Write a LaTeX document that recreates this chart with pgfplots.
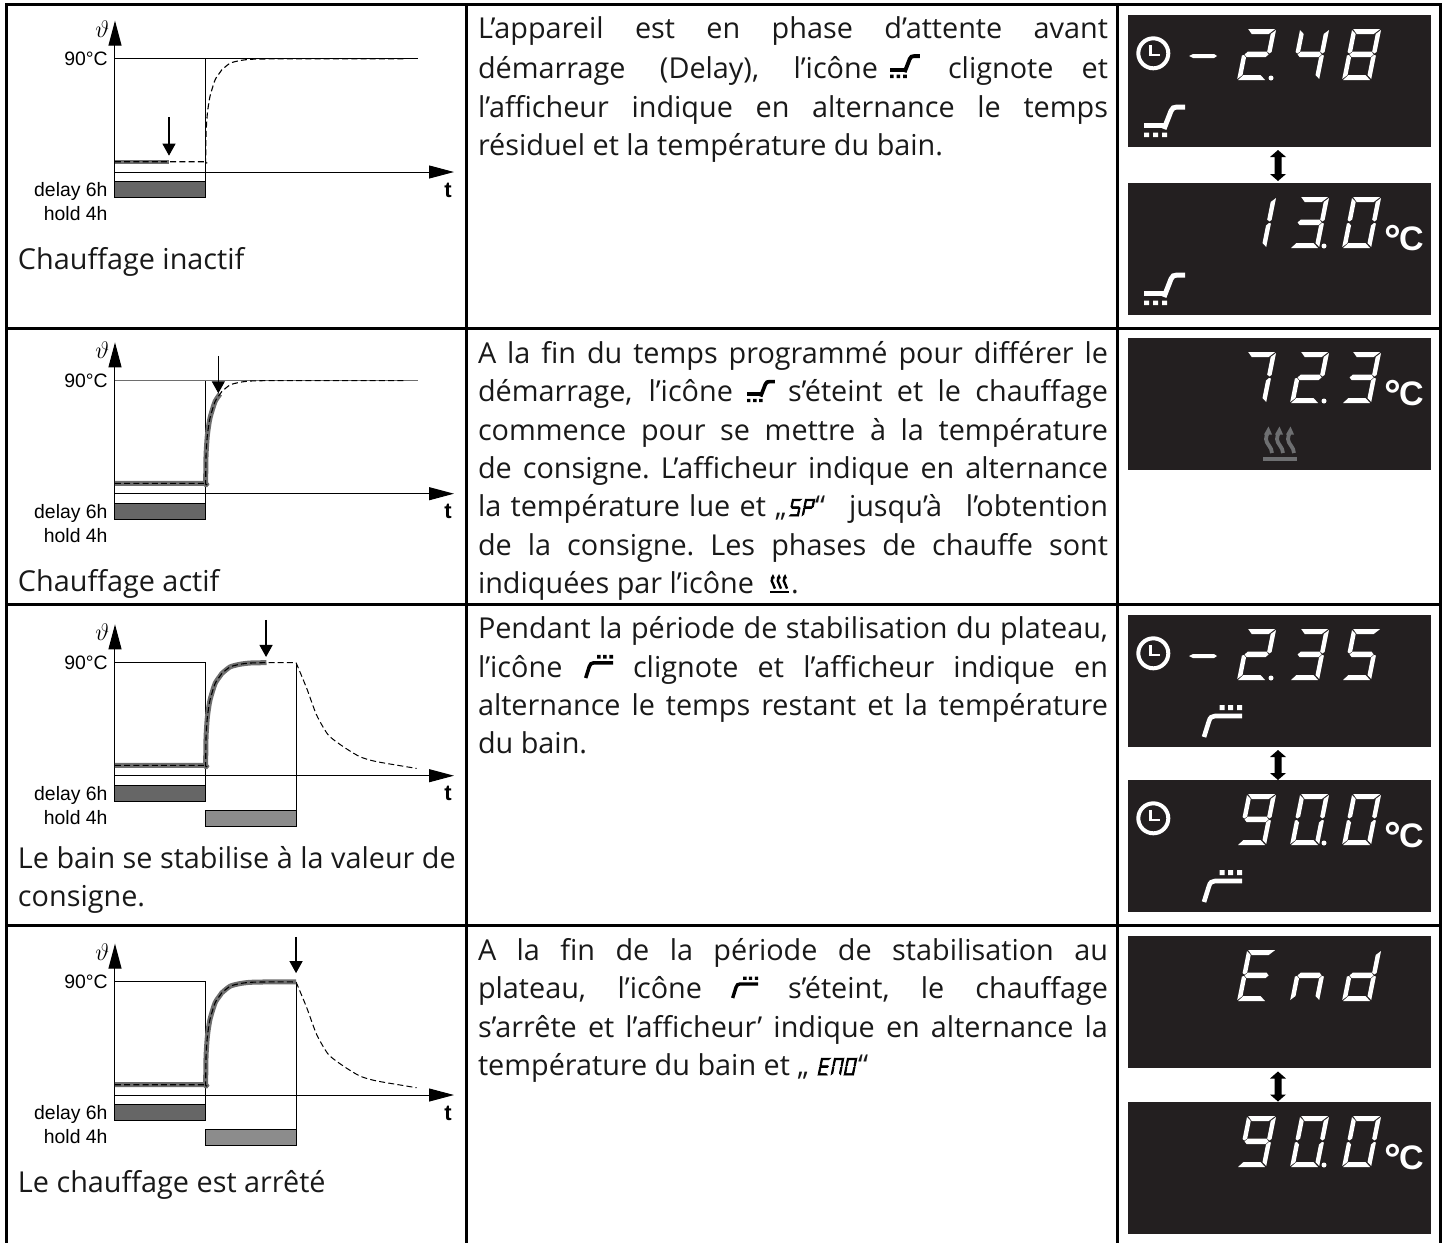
\documentclass[border=0pt]{standalone}
\usepackage{fontspec}
\usepackage{pgfplots}
\pgfplotsset{compat=1.18}
\usepackage{pgfplotstable}
\usetikzlibrary{arrows.meta}
\setmainfont{Open Sans}
\newfontfamily\arial{Liberation Sans}
\definecolor{lcd}{HTML}{231F20}
\definecolor{delaybar}{HTML}{666666}
\definecolor{holdbar}{HTML}{8C8C8C}
\definecolor{trace}{HTML}{6E6E6E}
\definecolor{heaticon}{HTML}{6E6F71}

% x in hours (15 px/h), y in deg C (90 = 113 px)
\pgfplotstableread{
x y
0 8.2
3.6 8.2
6 8.2
6.04 8.2
6.07 30.8
6.16 46.7
6.33 60
6.67 73.3
7 79.3
7.11 81.2
7.67 86.6
8.33 88.7
9 89.7
10.1 90
12.07 90
19.33 90
}\heatup
\pgfplotstableread{
x y
12.07 90
12.78 69.6
13.44 48.3
14.22 32.4
15.22 23.1
16.33 15.1
17.44 11.2
20.11 5.8
}\cooldown

\tikzset{
  pin/.style={black,line width=0.6pt,-{Triangle[length=6pt,width=6.5pt]}},
  dashcurve/.style={black,line width=0.55pt,dash pattern=on 3pt off 1.6pt,smooth,tension=0.4},
  thickcurve/.style={trace,line width=2.5pt,smooth,tension=0.4,line join=round},
  thin/.style={black,line width=0.5pt},
  txt/.style={inner sep=0pt,outer sep=0pt,font=\fontsize{14.4}{17}\selectfont,text=black!90},
  segsty/.style={fill=white},
}

% #1 = pixel row of the t axis, #2 = plots of that row
\newcommand\chart[2]{%
  \begin{axis}[
    at={(57.5pt,{-0.5pt*#1})},anchor=origin,
    scale only axis,width=169.5pt,height=88.5pt,
    xmin=0,xmax=22.6,ymin=-20.4,ymax=120.5,
    axis lines=center,clip=false,
    axis line style={black,line width=0.5pt},
    every inner x axis line/.append style={-{Triangle[length=12.5pt,width=6.5pt]}},
    every inner y axis line/.append style={-{Triangle[length=12.5pt,width=6.5pt]}},
    xtick=\empty,ytick={90},yticklabels={90°C},
    major tick length=0pt,
    yticklabel style={font=\arial\fontsize{9.7}{11}\selectfont,inner sep=0pt,xshift=-3.5pt},
    ]
    \addplot[fill=delaybar,draw=black,line width=0.5pt] coordinates {(0,-7.7) (6.04,-7.7) (6.04,-20.4) (0,-20.4)} --cycle;
    #2
    \node[anchor=base east,inner sep=0pt,font=\arial\fontsize{9.7}{11}\selectfont] at (axis cs:-0.47,-19.6) {delay 6h};
    \node[anchor=base east,inner sep=0pt,font=\arial\fontsize{9.7}{11}\selectfont] at (axis cs:-0.47,-38.8) {hold 4h};
    \node[inner sep=0pt,font=\arial\bfseries\fontsize{11}{12}\selectfont] at (axis cs:22.2,-14.3) {t};
    \node[inner sep=0pt,font=\fontsize{11.5}{12}\selectfont] at (axis cs:-0.85,113.9) {$\vartheta$};
  \end{axis}%
}
\newcommand\holdplots{%
  \addplot[fill=holdbar,draw=black,line width=0.5pt] coordinates {(6.04,-27.6) (12.09,-27.6) (12.09,-40.3) (6.04,-40.3)} --cycle;
  \addplot[thin] coordinates {(12.09,-40.3) (12.09,90)};
  \addplot[dashcurve,line width=0.5pt] table {\cooldown};
}

% seven segment digit, local box 29 x 51 px, slanted
\def\segA{\path[segsty] (1,51)--(28,51)--(22.5,46)--(5.5,46)--cycle;}
\def\segB{\path[segsty] (29,50)--(29,28)--(27,26.5)--(24.5,28.5)--(24.5,46)--cycle;}
\def\segC{\path[segsty] (29,24.5)--(29,1)--(24.5,5)--(24.5,22.5)--(27,25)--cycle;}
\def\segD{\path[segsty] (1,0)--(28,0)--(22.5,5)--(5.5,5)--cycle;}
\def\segE{\path[segsty] (0,1)--(0,24.5)--(2,25)--(4.5,22.5)--(4.5,5)--cycle;}
\def\segF{\path[segsty] (0,50)--(4.5,46)--(4.5,28.5)--(2,26.5)--(0,28)--cycle;}
\def\segG{\path[segsty] (2.5,25.5)--(5,28.3)--(24,28.3)--(26.5,25.5)--(24,23)--(5,23)--cycle;}
\newcommand\dig[4]{%
  \begin{scope}[shift={(#1,#2)},x=0.5pt,y=0.5pt,scale=#3,xslant=0.2]
    \foreach \s in {#4} {\csname seg\s\endcsname}
  \end{scope}%
}
% three digits of a display; #1 = top of display
\newcommand\three[4]{%
  \dig{1237}{#1+65}{1}{#2}\dig{1290}{#1+65}{1}{#3}\dig{1342}{#1+65}{1}{#4}}
\newcommand\dpoint[2]{\fill[white] (#1,#2+63) circle (2.5);}
\newcommand\degc[1]{%
  \node[anchor=base east,inner sep=0pt,text=white,font=\arial\bfseries\fontsize{21}{22}\selectfont] at (1402,#1+71) {°};
  \node[anchor=base east,inner sep=0pt,text=white,font=\arial\bfseries\fontsize{17}{20}\selectfont] at (1424,#1+67) {C};}
\newcommand\clock[1]{%
  \draw[white,line width=2pt] (1153.3,#1+38.3) circle (15);
  \draw[white,line width=1.3pt] (1150.6,#1+30)--(1150.6,#1+40)--(1160,#1+40);}
\newcommand\lcdminus[1]{\fill[white] (1189,#1+41)--(1193,#1+39)--(1214,#1+39)--(1217,#1+41)--(1214,#1+43)--(1193,#1+43)--cycle;}
\newcommand\lcdbox[2]{\fill[lcd] (1128,#1) rectangle (1431,#2);}
\newcommand\updown[2]{\fill[black] (1278,#1)--(1286,#1+7)--(1281.5,#1+7)--(1281.5,#2-7)--(1286,#2-7)--(1278,#2)--(1270,#2-7)--(1274.5,#2-7)--(1274.5,#1+7)--(1270,#1+7)--cycle;}
% ramp up icon: #1 x, #2 bottom y, #3 scale, #4 colour
\newcommand\iconup[4]{%
  \begin{scope}[shift={(#1,#2)},x=0.5pt,y=0.5pt,scale=#3]
    \fill[#4] (0,0) rectangle (5,4.5) (9,0) rectangle (14,4.5) (18,0) rectangle (23,4.5);
    \draw[#4,line width={2.5pt*(#3+0.2)/1.2}] (0,11.5)--(20,11.5);
    \draw[#4,line width={2.5pt*(#3+0.2)/1.2}] (20,8)--(27,26) .. controls (28,29) and (30,30) .. (33,30)--(41,30);
  \end{scope}}
% plateau icon
\newcommand\iconflat[4]{%
  \begin{scope}[shift={(#1,#2)},x=0.5pt,y=0.5pt,scale=#3]
    \fill[#4] (16.7,27) rectangle (21.7,32) (25,27) rectangle (30,32) (34,27) rectangle (39,32);
    \draw[#4,line width={2.3pt*(#3+0.2)/1.2}] (1,0)--(6,16) .. controls (7,19.5) and (9,21) .. (12,21)--(39,21);
  \end{scope}}
% heating icon
\newcommand\iconheat[4]{%
  \begin{scope}[shift={(#1,#2)},x=0.5pt,y=0.5pt,scale=#3]
    \fill[#4] (0,0) rectangle (34,4.5);
    \foreach \o in {0,11,22} {
      \draw[#4,line width={1.9pt*(#3+0.2)/1.2}] (\o+9,8) .. controls (\o+9,14) and (\o+3,17) .. (\o+3,22) .. controls (\o+3,25) and (\o+4,26) .. (\o+5,29);
      \fill[#4] (\o+5.5,34.5)--(\o+1,26.5)--(\o+9,26.5)--cycle;
    }
  \end{scope}}
% justified piece of line
\newcommand\Jx[4]{%
  \pgfmathsetlengthmacro\boxw{(#2-#1)*0.5pt}%
  \node[txt,anchor=base west] at (#1,#3) {\makebox[\boxw][s]{#4}};}
\newcommand\Tx[3]{\node[txt,anchor=base west] at (#1,#2) {#3};}
\newcommand\smallsegs{\tikzset{segsty/.style={fill=black,draw=black,line width=0.35pt}}}

\begin{document}
\frenchspacing
\begin{tikzpicture}[x=0.5pt,y=-0.5pt]
\path[use as bounding box] (0,0) rectangle (1447,1243);

% table rules
\draw[black,line width=1.5pt] (6.5,1243)--(6.5,4)--(1440,4)--(1440,1243);
\draw[black,line width=1.5pt] (466,4)--(466,1243) (1117,4)--(1117,1243);
\draw[black,line width=1.5pt] (6.5,328)--(1440,328) (6.5,604)--(1440,604) (6.5,925)--(1440,925);

% charts
\chart{172}{
  \addplot[thin] coordinates {(0,90) (20.2,90)};
  \addplot[thin] coordinates {(6.04,-20.4) (6.04,90)};
  \addplot[thickcurve,line width=2.2pt,restrict x to domain=0:3.6] table {\heatup};
  \addplot[dashcurve] table {\heatup};
  \addplot[pin] coordinates {(3.6,43.5) (3.6,13)};
}
\chart{493.7}{
  \addplot[trace,line width=0.8pt] coordinates {(0,90) (20.2,90)};
  \addplot[thin] coordinates {(6.04,-20.4) (6.04,90)};
  \addplot[thickcurve,restrict x to domain=0:7] table {\heatup};
  \addplot[dashcurve] table {\heatup};
  \addplot[pin] coordinates {(6.89,109.7) (6.89,79.9)};
}
\chart{775.7}{
  \addplot[thin] coordinates {(0,90) (6.04,90)};
  \addplot[thin] coordinates {(6.04,-20.4) (6.04,90)};
  \holdplots
  \addplot[thickcurve,restrict x to domain=0:10.1] table {\heatup};
  \addplot[dashcurve,restrict x to domain=0:12.07] table {\heatup};
  \addplot[pin] coordinates {(10.07,124) (10.07,94.5)};
}
\chart{1095}{
  \addplot[thin] coordinates {(0,90) (6.04,90)};
  \addplot[thin] coordinates {(6.04,-20.4) (6.04,90)};
  \holdplots
  \addplot[thickcurve,restrict x to domain=0:12.07] table {\heatup};
  \addplot[dashcurve,restrict x to domain=0:12.07] table {\heatup};
  \addplot[pin] coordinates {(12.07,125.8) (12.07,97)};
}

% left column captions
\Tx{18}{269}{Chauffage inactif}
\Tx{18}{591}{Chauffage actif}
\Tx{18}{868}{Le bain se stabilise à la valeur de}
\Tx{18}{906}{consigne.}
\Tx{18}{1192}{Le chauffage est arrêté}

% row 1 text
\Jx{478}{1108}{38}{L’appareil est en phase d’attente avant}
\Jx{478}{878}{78}{démarrage (Delay), l’icône}
\Jx{948}{1108}{78}{clignote et}
\iconup{890}{78}{0.73}{black}
\Jx{478}{1108}{117}{l’afficheur indique en alternance le temps}
\Tx{478}{155}{résiduel et la température du bain.}

% row 2 text
\Jx{478}{1108}{363}{A la fin du temps programmé pour différer le}
\Jx{478}{733}{401}{démarrage, l’icône}
\Jx{788}{1108}{401}{s’éteint et le chauffage}
\iconup{747}{402}{0.68}{black}
\Jx{478}{1108}{440}{commence pour se mettre à la température}
\Jx{478}{1108}{478}{de consigne. L’afficheur indique en alternance}
\Jx{478}{787}{516}{la température lue et „}
\begingroup\smallsegs
\dig{789}{516}{0.33}{A,F,G,C,D}\dig{802}{516}{0.33}{A,B,E,F,G}
\endgroup
\Tx{815}{516}{“}
\Jx{849}{1108}{516}{jusqu’à l’obtention}
\Jx{478}{1108}{555}{de la consigne. Les phases de chauffe sont}
\Tx{478}{593}{indiquées par l’icône}
\iconheat{770}{593}{0.55}{black}
\Tx{791}{593}{.}

% row 3 text
\Jx{478}{1108}{638}{Pendant la période de stabilisation du plateau,}
\Jx{478}{565}{677}{l’icône}
\Jx{633}{1108}{677}{clignote et l’afficheur indique en}
\iconflat{585}{678}{0.72}{black}
\Jx{478}{1108}{715}{alternance le temps restant et la température}
\Tx{478}{753}{du bain.}

% row 4 text
\Jx{478}{1108}{960}{A la fin de la période de stabilisation au}
\Jx{478}{702}{998}{plateau, l’icône}
\Jx{788}{1108}{998}{s’éteint, le chauffage}
\iconflat{732}{998}{0.67}{black}
\Jx{478}{1108}{1037}{s’arrête et l’afficheur’ indique en alternance la}
\Tx{478}{1075}{température du bain et „}
\begingroup\smallsegs
\dig{818}{1075}{0.33}{A,F,G,E,D}\dig{831}{1075}{0.33}{A,B,C,E,F}\dig{844}{1075}{0.33}{A,B,C,D,E,F}
\endgroup
\Tx{858}{1075}{“}

% displays
\lcdbox{15}{147} \lcdbox{183}{315} \lcdbox{338}{470} \lcdbox{615}{747} \lcdbox{780}{912} \lcdbox{936}{1068} \lcdbox{1102}{1234}
\updown{150}{181} \updown{750}{780} \updown{1071.5}{1101.5}

\clock{15} \lcdminus{15} \three{15}{A,B,G,E,D}{F,G,B,C}{A,B,C,D,E,F,G} \dpoint{1271}{15}
\iconup{1144}{137}{1}{white}
\three{183}{B,C}{A,B,G,C,D}{A,B,C,D,E,F} \dpoint{1324}{183} \degc{183}
\iconup{1144}{305}{1}{white}

\three{338}{A,B,C}{A,B,G,E,D}{A,B,G,C,D} \dpoint{1324}{338} \degc{338}
\iconheat{1263}{461}{1}{heaticon}

\clock{615} \lcdminus{615} \three{615}{A,B,G,E,D}{A,B,G,C,D}{A,F,G,C,D} \dpoint{1271}{615}
\iconflat{1203}{737}{1}{white}
\clock{780} \three{780}{A,B,C,D,F,G}{A,B,C,D,E,F}{A,B,C,D,E,F} \dpoint{1324}{780} \degc{780}
\iconflat{1203}{902}{1}{white}

\three{936}{A,F,G,E,D}{G,C,E}{B,C,D,E,G}
\three{1102}{A,B,C,D,F,G}{A,B,C,D,E,F}{A,B,C,D,E,F} \dpoint{1324}{1102} \degc{1102}
\end{tikzpicture}
\end{document}
